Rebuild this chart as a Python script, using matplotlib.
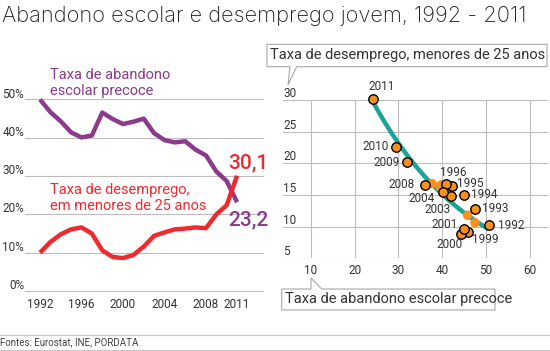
import numpy as np
import matplotlib
matplotlib.use("Agg")
import matplotlib.pyplot as plt
from matplotlib.patches import Polygon

# ---------------- data ----------------
years = list(range(1992, 2012))
abandono = [50.0, 46.7, 44.3, 41.4, 40.1, 40.6, 46.6, 44.9, 43.6, 44.2,
            45.0, 41.2, 39.4, 38.8, 39.1, 36.9, 35.4, 31.2, 28.7, 23.2]
desemprego = [10.0, 12.8, 14.8, 16.1, 16.6, 15.0, 10.6, 8.9, 8.6, 9.4,
              11.6, 14.4, 15.3, 16.1, 16.3, 16.6, 16.4, 20.0, 22.4, 30.1]
left_xticks = [1992, 1996, 2000, 2004, 2008, 2011]
left_yticks = [0, 10, 20, 30, 40, 50]

# scatter
sc_years = [1992, 1993, 1994, 1995, 1996, 1997, 1998, 1999, 2000, 2001,
            2002, 2003, 2004, 2005, 2006, 2007, 2008, 2009, 2010, 2011]
sc_x = [50.7, 47.5, 45.1, 42.2, 40.8, 41.3, 47.5, 45.8, 44.3, 45.0,
        45.8, 42.0, 40.2, 39.5, 39.8, 37.7, 36.1, 32.0, 29.5, 24.2]
sc_y = [10.2, 12.8, 15.0, 16.4, 16.8, 15.2, 10.6, 9.1, 8.9, 9.6,
        11.8, 14.8, 15.4, 16.3, 16.6, 16.8, 16.6, 20.2, 22.6, 30.2]
labeled = [1992, 1993, 1994, 1995, 1996, 1999, 2000, 2001, 2003, 2004,
           2008, 2009, 2010, 2011]
right_xticks = [10, 20, 30, 40, 50, 60]
right_yticks = [5, 10, 15, 20, 25, 30]

# ---------------- style ----------------
PURPLE = "#8B3A8C"
RED = "#EE2A2E"
TEAL = "#1BA39A"
ORANGE = "#F7901E"
GRID = "#BDBDBD"
TXT = "#333333"
FONT = ["Roboto", "DejaVu Sans"]
plt.rcParams["font.family"] = FONT

W, H = 550, 351
fig = plt.figure(figsize=(W / 100, H / 100), dpi=100)


def P(x, y):
    return (x / W, 1 - y / H)


def axrect(x0, x1, ytop, ybot):
    return [x0 / W, 1 - ybot / H, (x1 - x0) / W, (ybot - ytop) / H]


# title
fig.text(*P(2, 16), "Abandono escolar e desemprego jovem, 1992 - 2011",
         fontsize=15.7, fontweight="light", color="#222222", va="center",
         ha="left", family=["Inter", "DejaVu Sans"])

# ---------------- left panel ----------------
ax1 = fig.add_axes(axrect(25, 263, 99.5, 291))
ax1.set_xlim(1990.55, 2013.5)
ax1.set_ylim(0, 50)
for s in ax1.spines.values():
    s.set_visible(False)
ax1.set_yticks([])
for v in left_yticks:
    ax1.axhline(v, color=GRID, lw=0.8, zorder=1, clip_on=False)
    ax1.annotate(f"{v}%", xy=(0, v), xycoords=("figure fraction", "data"),
                 xytext=(24, -1), textcoords="offset pixels",
                 ha="right", va="bottom", fontsize=8.5, color=TXT,
                 annotation_clip=False)
ax1.set_xticks(left_xticks)
ax1.set_xticklabels([str(t) for t in left_xticks])
ax1.tick_params(axis="x", length=0, pad=5, labelsize=8.5, labelcolor=TXT)

ax1.plot(years, abandono, color=PURPLE, lw=3.2, solid_capstyle="butt",
         solid_joinstyle="round", zorder=3, clip_on=False)
ax1.plot(years, desemprego, color=RED, lw=3.2, solid_capstyle="butt",
         solid_joinstyle="round", zorder=3, clip_on=False)

fig.text(*P(50, 83), "Taxa de abandono\nescolar precoce", color=PURPLE,
         fontsize=10.5, va="center", ha="left", linespacing=1.15)
fig.text(*P(50, 198), "Taxa de desemprego,\nem menores de 25 anos", color=RED,
         fontsize=10.5, va="center", ha="left", linespacing=1.15)
ax1.annotate("30,1", xy=(years[-1], desemprego[-1]), xytext=(-9, 3),
             textcoords="offset pixels", color=RED, fontsize=15,
             fontweight="medium", ha="left", va="bottom", annotation_clip=False)
ax1.annotate("23,2", xy=(years[-1], abandono[-1]), xytext=(-9, -8),
             textcoords="offset pixels", color=PURPLE, fontsize=15,
             fontweight="medium", ha="left", va="top", annotation_clip=False)

# ---------------- right panel ----------------
ax2 = fig.add_axes(axrect(283, 548, 100, 258.3))
ax2.set_xlim(3.6, 64.2)
ax2.set_ylim(5, 30)
for s in ax2.spines.values():
    s.set_visible(False)
ax2.set_yticks([])
for v in right_yticks:
    ax2.axhline(v, color=GRID, lw=0.8, zorder=1)
    ax2.annotate(str(v), xy=(0, v), xycoords=("axes fraction", "data"),
                 xytext=(0, 0), textcoords="offset pixels", ha="left",
                 va="bottom", fontsize=8.5, color=TXT, annotation_clip=False)
for v in right_xticks:
    ax2.axvline(v, color=GRID, lw=0.8, zorder=1)
ax2.set_xticks(right_xticks)
ax2.set_xticklabels([str(t) for t in right_xticks])
ax2.tick_params(axis="x", length=0, pad=4, labelsize=8.5, labelcolor=TXT)

# exponential trend line
sx = np.array(sc_x)
sy = np.array(sc_y)
b, a = np.polyfit(sx, np.log(sy), 1)
xx = np.linspace(sx.min(), sx.max(), 100)
ax2.plot(xx, np.exp(a + b * xx), color=TEAL, lw=3.2, zorder=2,
         solid_capstyle="butt")

lab_x = [x for x, yr in zip(sc_x, sc_years) if yr in labeled]
lab_y = [y for y, yr in zip(sc_y, sc_years) if yr in labeled]
unl_x = [x for x, yr in zip(sc_x, sc_years) if yr not in labeled]
unl_y = [y for y, yr in zip(sc_y, sc_years) if yr not in labeled]
ax2.scatter(unl_x, unl_y, s=46, color=ORANGE, edgecolor="none", zorder=3,
            clip_on=False)
ax2.scatter(lab_x, lab_y, s=46, color=ORANGE, edgecolor="black", lw=1.0,
            zorder=4, clip_on=False)

# label offsets in pixels (dx, dy, ha)
offs = {
    2011: (9, 12, "center"), 2010: (-8, 0, "right"), 2009: (-8, 0, "right"),
    2008: (-10, 0, "right"), 2004: (-8, -6, "right"), 2003: (0, -13, "right"),
    2001: (-6, 5, "right"), 2000: (-11, -11, "center"), 1999: (4, -7, "left"),
    1992: (9, 0, "left"), 1993: (7, 0, "left"), 1994: (7, 0, "left"),
    1995: (5, 3, "left"), 1996: (8, 11, "center"),
}
for x, y, yr in zip(sc_x, sc_y, sc_years):
    if yr in offs:
        dx, dy, ha = offs[yr]
        ax2.annotate(str(yr), xy=(x, y), xytext=(dx, dy),
                     textcoords="offset pixels", ha=ha, va="center",
                     fontsize=8.5, color=TXT, zorder=5, annotation_clip=False)

# axis title boxes (speech bubbles)
top_box = [P(267, 44.3), P(547, 44.3), P(547, 66.7), P(296.7, 66.7),
           P(288, 85), P(290, 66.7), P(267, 66.7)]
fig.add_artist(Polygon(top_box, closed=True, transform=fig.transFigure,
                       facecolor="white", edgecolor="#A8A8A8", lw=0.8))
fig.text(*P(270, 55.5), "Taxa de desemprego, menores de 25 anos",
         fontsize=10.5, color=TXT, va="center", ha="left")

bot_box = [P(281.7, 289), P(311, 289), P(311, 278), P(321.7, 289),
           P(495, 289), P(495, 310), P(281.7, 310)]
fig.add_artist(Polygon(bot_box, closed=True, transform=fig.transFigure,
                       facecolor="white", edgecolor="#A8A8A8", lw=0.8))
fig.text(*P(285, 299.5), "Taxa de abandono escolar precoce",
         fontsize=10.5, color=TXT, va="center", ha="left")

# footer
for yy in (335, 350):
    fig.add_artist(plt.Line2D([0, 1], [1 - yy / H] * 2, color="#C8C8C8",
                              lw=0.8, transform=fig.transFigure))
fig.text(*P(0, 342.5), "Fontes: Eurostat, INE, PORDATA", fontsize=7,
         color="#444444", va="center", ha="left")

fig.savefig("out.png", dpi=100)
